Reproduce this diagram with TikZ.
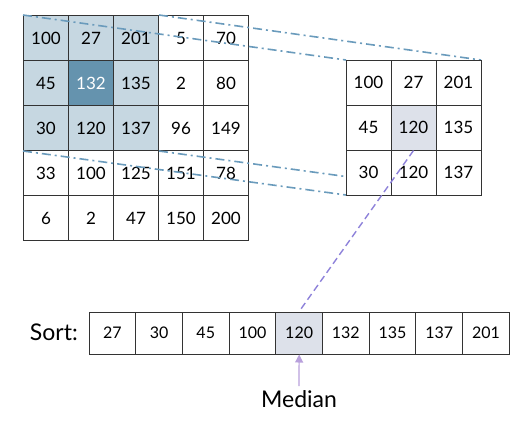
\documentclass[tikz,border=0pt]{standalone}
\usepackage{fontspec}
\setmainfont{Lato}
\usetikzlibrary{arrows.meta}
\definecolor{cellline}{HTML}{333333}
\definecolor{winblue}{HTML}{C6D7E1}
\definecolor{ctrblue}{HTML}{6593AE}
\definecolor{medgray}{HTML}{DDE1EA}
\definecolor{guideblue}{HTML}{6A9BBC}
\definecolor{linkpurple}{HTML}{8E82DA}
\definecolor{arrowlilac}{HTML}{B8A0DC}

\begin{document}
\begin{tikzpicture}[x=1pt,y=-1pt,node distance={45pt},
  cell/.style = {draw=cellline, line width=1pt, fill=white, minimum size=45pt, inner sep=0pt, font=\fontsize{17}{20}\selectfont},
  win/.style = {cell, fill=winblue},
  ctr/.style = {cell, fill=ctrblue, text=white},
  sortcell/.style = {cell, minimum width=46.7pt, minimum height=42pt, font=\fontsize{16}{19}\selectfont},
  guide/.style = {guideblue, line width=1.6pt, dash pattern=on 9pt off 4pt on 2pt off 4pt},
  big/.style = {font=\fontsize{23}{27}\selectfont, inner sep=0pt}]
\useasboundingbox (0,0) rectangle (531,424);
% image
\node[win] (a11) at (46,38) {100};
\node[win] (a12) [right of=a11] {27};
\node[win] (a13) [right of=a12] {201};
\node[cell] (a14) [right of=a13] {5};
\node[cell] (a15) [right of=a14] {70};
\node[win] (a21) [below of=a11] {45};
\node[ctr] (a22) [right of=a21] {132};
\node[win] (a23) [right of=a22] {135};
\node[cell] (a24) [right of=a23] {2};
\node[cell] (a25) [right of=a24] {80};
\node[win] (a31) [below of=a21] {30};
\node[win] (a32) [right of=a31] {120};
\node[win] (a33) [right of=a32] {137};
\node[cell] (a34) [right of=a33] {96};
\node[cell] (a35) [right of=a34] {149};
\node[cell] (a41) [below of=a31] {33};
\node[cell] (a42) [right of=a41] {100};
\node[cell] (a43) [right of=a42] {125};
\node[cell] (a44) [right of=a43] {151};
\node[cell] (a45) [right of=a44] {78};
\node[cell] (a51) [below of=a41] {6};
\node[cell] (a52) [right of=a51] {2};
\node[cell] (a53) [right of=a52] {47};
\node[cell] (a54) [right of=a53] {150};
\node[cell] (a55) [right of=a54] {200};
% window edges
\coordinate (bnw) at (346,60);
\coordinate (bne) at (481,60);
\coordinate (bsw) at (346,195);
\coordinate (bse) at (481,195);
\draw[guide] (a11.north west) -- (bnw);
\draw[guide] (a13.north east) -- (bne);
\draw[guide] (a31.south west) -- (bsw);
\draw[guide] (a33.south east) -- (bse);
% neighbourhood
\node[cell] (b11) at (368.5,82.5) {100};
\node[cell] (b12) [right of=b11] {27};
\node[cell] (b13) [right of=b12] {201};
\node[cell] (b21) [below of=b11] {45};
\node[cell,fill=medgray] (b22) [right of=b21] {120};
\node[cell] (b23) [right of=b22] {135};
\node[cell] (b31) [below of=b21] {30};
\node[cell] (b32) [right of=b31] {120};
\node[cell] (b33) [right of=b32] {137};
% sorted
\begin{scope}[node distance={46.7pt}]
\node[sortcell] (s1) at (112.35,333) {27};
\node[sortcell] (s2) [right of=s1] {30};
\node[sortcell] (s3) [right of=s2] {45};
\node[sortcell] (s4) [right of=s3] {100};
\node[sortcell,fill=medgray] (s5) [right of=s4] {120};
\node[sortcell] (s6) [right of=s5] {132};
\node[sortcell] (s7) [right of=s6] {135};
\node[sortcell] (s8) [right of=s7] {137};
\node[sortcell] (s9) [right of=s8] {201};
\end{scope}
\node[big,anchor=east] (sort) at (78,332) {Sort:};
\node[big] (median) at (299,399) {Median};
\draw[linkpurple, line width=1.4pt, dash pattern=on 7pt off 4pt] (b22.south) -- (s5.north);
\draw[arrowlilac, line width=1.2pt, -{Triangle[length=8pt,width=8pt]}] (median.north) ++(0,-4) -- (s5.south);
\end{tikzpicture}
\end{document}
